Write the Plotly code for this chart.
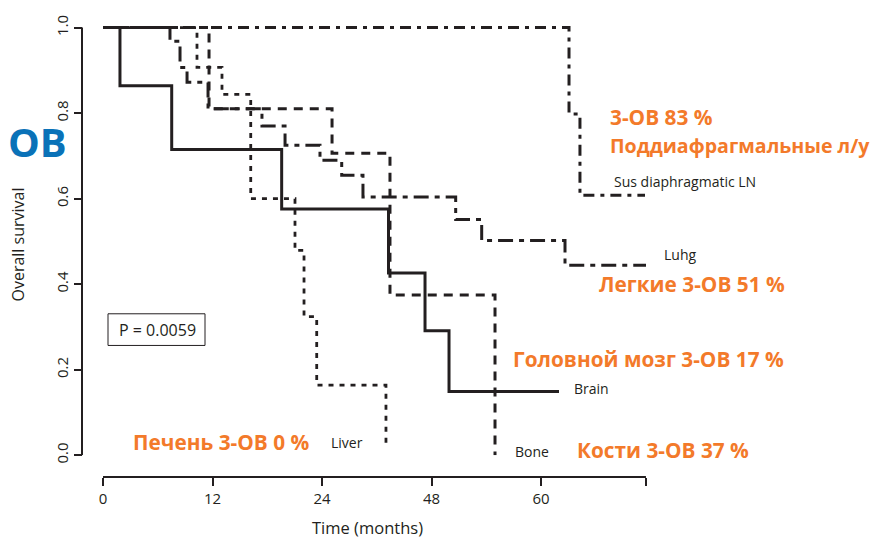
import plotly.graph_objects as go

# ---- data (months, survival probability) ----
brain_t = [0, 1.86, 7.53, 19.58, 31.29, 35.29, 37.92, 49.97]
brain_s = [1.0, 0.864, 0.715, 0.576, 0.426, 0.291, 0.149, 0.149]

bone_t = [0, 11.62, 25.10, 31.45, 42.96]
bone_s = [1.0, 0.81, 0.706, 0.375, 0.0]

liver_t = [0, 10.30, 13.04, 16.19, 21.04, 22.03, 23.42, 31.01]
liver_s = [1.0, 0.907, 0.844, 0.600, 0.479, 0.324, 0.164, 0.023]

lung_t = [0, 7.34, 8.44, 9.21, 11.51, 17.42, 19.95, 23.78, 26.16, 28.49, 38.65, 41.50, 50.63, 59.51]
lung_s = [1.0, 0.968, 0.907, 0.872, 0.81, 0.770, 0.725, 0.690, 0.655, 0.604, 0.551, 0.502, 0.444, 0.444]

sus_t = [0, 51.07, 52.27, 59.40]
sus_s = [1.0, 0.798, 0.608, 0.608]

x_tickvals = [0, 12, 24, 36, 48, 59.5]
x_ticktext = ["0", "12", "24", "48", "60", ""]
y_tickvals = [0, 0.2, 0.4, 0.6, 0.8, 1.0]
y_ticktext = ["0.0", "0.2", "0.4", "0.6", "0.8", "1.0"]

# page has an 8px body margin; figure is sized to fit inside the window
OFF = 8
W, H = 881 - OFF, 538 - OFF
PL, PR, PT, PB = 82, 650, 15, 477  # plot area in page pixels

# ---- layout helpers (page pixel -> axis / paper units) ----
def X(px):
    return (px - 103) * 12 / 109.5

def Y(py):
    return (455 - py) / 432.3

def PX(px):
    return (px - PL) / (PR - PL)

def PY(py):
    return (PB - py) / (PB - PT)

BLACK = "#231f20"
ORANGE = "#f37a2a"
BLUE = "#0a72b8"
FONT = "Open Sans"

fig = go.Figure()

def add(t, s, dash, width=3):
    fig.add_trace(go.Scatter(x=t, y=s, mode="lines", line_shape="hv",
                             line=dict(color=BLACK, width=width, dash=dash),
                             showlegend=False, hoverinfo="skip"))

add(sus_t, sus_s, "11px,6px,4px,6px")
add(lung_t, lung_s, "15px,6px,5px,6px")
add(liver_t, liver_s, "5px,6px", 2.8)
add(bone_t, bone_s, "9px,7px")
add(brain_t, brain_s, "solid", 3)

shapes = [
    # detached axis lines
    dict(type="line", xref="x", yref="paper", x0=0, x1=59.5, y0=0, y1=0,
         line=dict(color=BLACK, width=2)),
    dict(type="line", xref="paper", yref="y", x0=0, x1=0, y0=0, y1=1,
         line=dict(color=BLACK, width=2)),
    # p-value box
    dict(type="rect", xref="paper", yref="paper", x0=PX(108), x1=PX(205), y0=PY(344), y1=PY(312),
         line=dict(color=BLACK, width=1)),
]

ann = []
def txt(px, py, text, size, color=BLACK, bold=False, anchor="left", angle=0):
    t = f"<b>{text}</b>" if bold else text
    ann.append(dict(x=PX(px), y=PY(py), xref="paper", yref="paper", text=t, showarrow=False,
                    xanchor=anchor, yanchor="middle", textangle=angle,
                    font=dict(family=FONT, size=size, color=color)))

OS = 20.8
txt(157, 328, "P = 0.0059", 16, anchor="center")
txt(608, 113, "3-ОВ 83 %", OS, ORANGE, True)
txt(608, 142, "Поддиафрагмальные л/у", 19.6, ORANGE, True)
txt(612, 178, "Sus diaphragmatic LN", 14)
txt(662, 252, "Luhg", 14)
txt(597, 282, "Легкие 3-ОВ 51 %", OS, ORANGE, True)
txt(511, 358, "Головной мозг 3-ОВ 17 %", OS, ORANGE, True)
txt(572, 388, "Brain", 14)
txt(131, 442, "Печень 3-ОВ 0 %", OS, ORANGE, True)
txt(329, 442, "Liver", 14)
txt(513, 451, "Bone", 14)
txt(575, 450, "Кости 3-ОВ 37 %", OS, ORANGE, True)
txt(6, 138, "<b>ОВ</b>", 40, BLUE)
txt(18, 242, "Overall survival", 16, anchor="center", angle=-90)
txt(367, 528, "Time (months)", 16.5, anchor="center")

fig.update_layout(
    width=W, height=H,
    margin=dict(l=PL - OFF, r=W - (PR - OFF), t=PT - OFF, b=H - (PB - OFF)),
    paper_bgcolor="white", plot_bgcolor="white",
    shapes=shapes, annotations=ann,
    xaxis=dict(domain=[(103 - PL) / (PR - PL), 1], range=[0, X(PR)], anchor="free", position=0,
               showline=False, showgrid=False, zeroline=False,
               tickmode="array", tickvals=x_tickvals, ticktext=x_ticktext,
               ticks="outside", ticklen=8, tickwidth=2, tickcolor=BLACK,
               tickfont=dict(family=FONT, size=15, color=BLACK)),
    yaxis=dict(domain=[(PB - 455) / (PB - PT), 1], range=[0, Y(PT)], anchor="free", position=0,
               showline=False, showgrid=False, zeroline=False,
               tickmode="array", tickvals=y_tickvals, ticktext=y_ticktext,
               ticks="outside", ticklen=8, tickwidth=2, tickcolor=BLACK, tickangle=-90,
               tickfont=dict(family=FONT, size=15, color=BLACK)),
)

fig.write_html("out.html")
